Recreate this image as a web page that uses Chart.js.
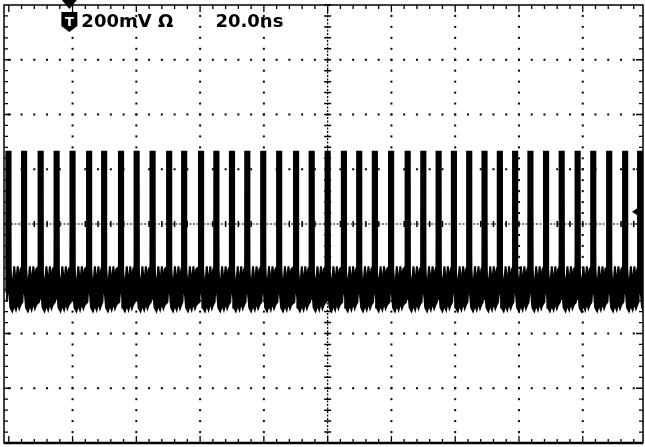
<!DOCTYPE html>
<html>
<head>
<meta charset="utf-8">
<title>200 MHz pulse train</title>
<script src="https://cdn.jsdelivr.net/npm/chart.js@4.4.1/dist/chart.umd.min.js"></script>
<style>
  html, body { margin: 0; padding: 0; background: #fff; }
  #scope { display: block; }
</style>
</head>
<body>
<canvas id="scope" width="645" height="447"></canvas>
<script>
// Channel settings shown in the readout
const voltsLabel = '200mV';
const timeLabel = '20.0ns';
const nsPerDiv = 20;
const mvPerDiv = 200;

// Spike peak times (ns, 0 = screen centre)
const spikeTimes = [
  -100.1, -95.2, -90.0, -85.0, -80.0, -74.8, -70.1, -64.8, -59.9, -54.9,
  -49.7, -45.0, -39.7, -34.9, -30.0, -25.2, -20.2, -15.2, -9.9, -5.0,
  0, 5.1, 9.9, 14.8, 19.9, 25.1, 30.0, 34.8, 39.6, 44.4,
  49.2, 54.0, 58.8, 63.6, 68.5, 73.4, 78.4, 83.3, 88.3, 93.3, 98.0
];
const spikeTop = 266;    // mV
const spikeFoot = -250;  // mV

// One period of the trace around a spike: time offset (ns) and the
// top / bottom edge of the persisted trace band (mV)
const phaseOffsets = [-0.55, -0.4, -0.15, 0.15, 0.4, 0.6, 1.2, 1.8, 2.35, 2.9, 3.4, 3.8];
const upperShape   = [-155, 225, 255, 253, 220, -165, -245, -155, -225, -155, -215, -165];
const lowerShape   = [-285, -250, -245, -245, -275, -305, -318, -295, -313, -285, -308, -295];

// Trigger markers
const triggerTime = -81;    // ns, marker on top edge
const triggerLevel = 45;    // mV, marker on right edge

// Trace band outline: top edge left to right, then bottom edge back
const upperPts = [];
const lowerPts = [];
spikeTimes.forEach(t => {
  phaseOffsets.forEach((off, i) => {
    upperPts.push({ x: t + off, y: upperShape[i] });
    lowerPts.push({ x: t + off, y: lowerShape[i] });
  });
});
const bandPts = upperPts.concat(lowerPts.slice().reverse());
const spikeBars = spikeTimes.map(t => ({ x: t, y: [spikeFoot, spikeTop] }));

// Graticule: dotted divisions, centre cross with ticks, framed border
const graticule = {
  id: 'graticule',
  beforeDatasetsDraw(chart) {
    const { ctx, chartArea: a, scales: { x, y } } = chart;
    ctx.save();
    ctx.fillStyle = '#000';
    const minorX = nsPerDiv / 5;
    const minorY = mvPerDiv / 5;

    // dotted vertical division lines
    for (let d = -4; d <= 4; d++) {
      if (d === 0) continue;
      const px = x.getPixelForValue(d * nsPerDiv);
      for (let k = -20; k <= 20; k++) {
        const py = y.getPixelForValue(k * minorY);
        if (py < a.top + 2 || py > a.bottom - 2) continue;
        ctx.fillRect(px - 1, py - 1, 2, 2);
      }
    }
    // dotted horizontal division lines
    for (let d = -3; d <= 3; d++) {
      if (d === 0) continue;
      const py = y.getPixelForValue(d * mvPerDiv);
      for (let k = -26; k <= 26; k++) {
        const px = x.getPixelForValue(k * minorX);
        if (px < a.left + 2 || px > a.right - 2) continue;
        ctx.fillRect(px - 1, py - 1, 2, 2);
      }
    }

    // centre cross
    const cx = x.getPixelForValue(0);
    const cy = y.getPixelForValue(0);
    ctx.strokeStyle = '#000';
    ctx.lineWidth = 1.2;
    ctx.setLineDash([2, 1.5]);
    ctx.beginPath();
    ctx.moveTo(cx, a.top); ctx.lineTo(cx, a.bottom);
    ctx.moveTo(a.left, cy); ctx.lineTo(a.right, cy);
    ctx.stroke();
    ctx.setLineDash([]);
    ctx.lineWidth = 1.5;
    ctx.beginPath();
    for (let k = -20; k <= 20; k++) {
      const py = y.getPixelForValue(k * minorY);
      ctx.moveTo(cx - 3.5, py); ctx.lineTo(cx + 3.5, py);
    }
    for (let k = -26; k <= 26; k++) {
      const px = x.getPixelForValue(k * minorX);
      if (px < a.left || px > a.right) continue;
      ctx.moveTo(px, cy - 3); ctx.lineTo(px, cy + 3);
    }
    ctx.stroke();
    ctx.restore();
  },
  afterDatasetsDraw(chart) {
    const { ctx, chartArea: a, scales: { x, y } } = chart;
    ctx.save();
    ctx.strokeStyle = '#000';
    ctx.fillStyle = '#000';

    // frame
    ctx.lineWidth = 1.5;
    ctx.strokeRect(a.left, a.top, a.right - a.left, a.bottom - a.top);
    ctx.lineWidth = 2.5;
    ctx.beginPath();
    ctx.moveTo(a.left, a.bottom); ctx.lineTo(a.right, a.bottom);
    ctx.stroke();

    // ticks along the frame
    ctx.lineWidth = 1.3;
    ctx.beginPath();
    for (let k = -26; k <= 26; k++) {
      const px = x.getPixelForValue(k * nsPerDiv / 5);
      if (px < a.left + 2 || px > a.right - 2) continue;
      const len = k % 5 === 0 ? 7 : 4;
      ctx.moveTo(px, a.top); ctx.lineTo(px, a.top + len);
      ctx.moveTo(px, a.bottom); ctx.lineTo(px, a.bottom - len);
    }
    for (let k = -20; k <= 20; k++) {
      const py = y.getPixelForValue(k * mvPerDiv / 5);
      if (py < a.top + 2 || py > a.bottom - 2) continue;
      const len = k % 5 === 0 ? 7 : 4;
      ctx.moveTo(a.left, py); ctx.lineTo(a.left + len, py);
      ctx.moveTo(a.right, py); ctx.lineTo(a.right - len, py);
    }
    ctx.stroke();

    // trigger position marker on the top edge
    const tx = x.getPixelForValue(triggerTime);
    ctx.beginPath();
    ctx.moveTo(tx - 7.5, a.top - 5);
    ctx.lineTo(tx + 7.5, a.top - 5);
    ctx.lineTo(tx, a.top + 4);
    ctx.closePath();
    ctx.fill();
    ctx.beginPath();
    ctx.moveTo(tx - 8, a.top + 7);
    ctx.lineTo(tx + 8, a.top + 7);
    ctx.lineTo(tx + 8, a.top + 21);
    ctx.lineTo(tx, a.top + 27);
    ctx.lineTo(tx - 8, a.top + 21);
    ctx.closePath();
    ctx.fill();
    ctx.fillStyle = '#fff';
    ctx.font = 'bold 13px "DejaVu Sans"';
    ctx.textAlign = 'center';
    ctx.textBaseline = 'alphabetic';
    ctx.fillText('T', tx, a.top + 21);

    // trigger level marker on the right edge
    const ly = y.getPixelForValue(triggerLevel);
    ctx.fillStyle = '#000';
    ctx.beginPath();
    ctx.moveTo(a.right - 11, ly);
    ctx.lineTo(a.right - 2, ly - 6);
    ctx.lineTo(a.right - 2, ly + 6);
    ctx.closePath();
    ctx.fill();

    // readout
    ctx.textAlign = 'left';
    ctx.font = 'bold 18px "DejaVu Sans"';
    ctx.fillText(voltsLabel + ' \u03A9', tx + 12, a.top + 22);
    ctx.fillText(timeLabel, x.getPixelForValue(-35.2), a.top + 22);
    ctx.restore();
  }
};

new Chart(document.getElementById('scope'), {
  type: 'line',
  data: {
    datasets: [
      {
        type: 'bar',
        data: spikeBars,
        backgroundColor: '#000',
        borderWidth: 0,
        barThickness: 5.5,
        grouped: false
      },
      {
        data: bandPts,
        borderColor: '#000',
        backgroundColor: '#000',
        borderWidth: 2,
        pointRadius: 0,
        tension: 0,
        fill: 'shape'
      }
    ]
  },
  options: {
    responsive: false,
    animation: false,
    events: [],
    layout: { padding: { left: 4, right: 2, top: 5, bottom: 4 } },
    plugins: { legend: { display: false }, tooltip: { enabled: false } },
    scales: {
      x: { type: 'linear', min: -101.5, max: 98.9, display: false, offset: false },
      y: { min: -4 * mvPerDiv, max: 4 * mvPerDiv, display: false }
    }
  },
  plugins: [graticule]
});
</script>
</body>
</html>
